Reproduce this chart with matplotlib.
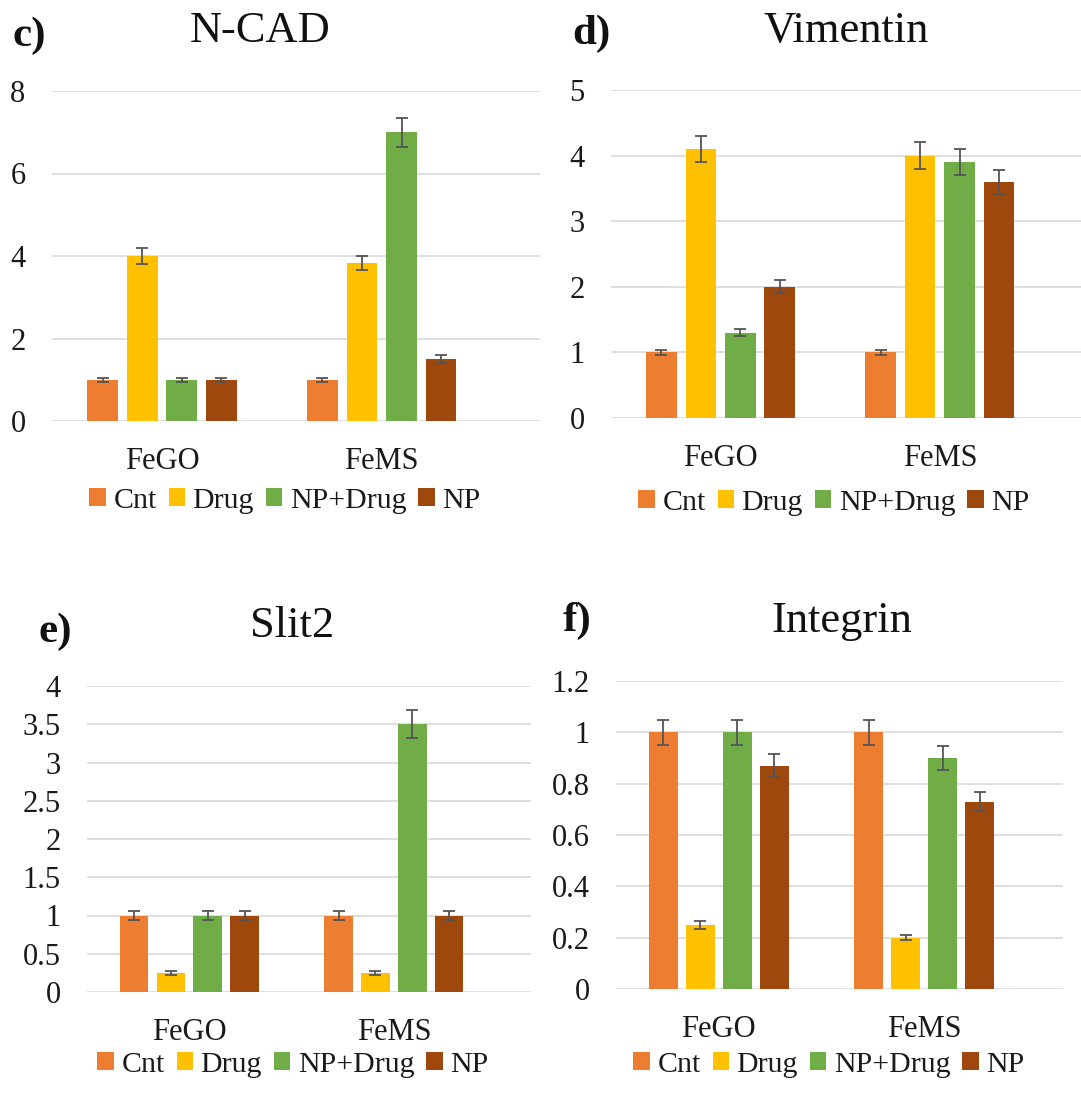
import numpy as np
import matplotlib
matplotlib.use("Agg")
import matplotlib.pyplot as plt
from matplotlib.patches import Patch

plt.rcParams['font.family'] = ['Liberation Serif', 'DejaVu Serif']

# data
groups = ['FeGO', 'FeMS']
series = ['Cnt', 'Drug', 'NP+Drug', 'NP']
colors = ['#ED7D31', '#FFC000', '#70AD47', '#9E480E']

ncad_vals = [[1.0, 1.0], [4.0, 3.82], [1.0, 7.0], [1.0, 1.5]]
ncad_err = [[0.05, 0.05], [0.2, 0.17], [0.05, 0.35], [0.05, 0.1]]

vim_vals = [[1.0, 1.0], [4.1, 4.0], [1.3, 3.9], [2.0, 3.6]]
vim_err = [[0.04, 0.04], [0.2, 0.2], [0.05, 0.2], [0.1, 0.18]]

slit_vals = [[1.0, 1.0], [0.25, 0.25], [1.0, 3.5], [1.0, 1.0]]
slit_err = [[0.06, 0.06], [0.025, 0.025], [0.06, 0.18], [0.06, 0.06]]

integ_vals = [[1.0, 1.0], [0.25, 0.2], [1.0, 0.9], [0.87, 0.73]]
integ_err = [[0.05, 0.05], [0.015, 0.01], [0.05, 0.045], [0.045, 0.037]]

W, H = 1081, 1101
fig = plt.figure(figsize=(W / 100, H / 100), dpi=100)


def rect(left, right, top, bottom):
    return [left / W, 1 - bottom / H, (right - left) / W, (bottom - top) / H]


def panel(box, xright, vals, errs, yticks, title, tx, ty, letter, lx, ly, legx, legy):
    ax = fig.add_axes(rect(*box))
    x = np.arange(len(groups))
    offsets = [-0.27, -0.09, 0.09, 0.27]
    for i, name in enumerate(series):
        ax.bar(x + offsets[i], vals[i], width=0.14, color=colors[i], zorder=2,
               yerr=errs[i], capsize=4.5,
               error_kw=dict(ecolor='#555555', elinewidth=1.3, capthick=1.3, zorder=3))
    ax.set_xlim(-0.5, xright)
    ax.set_ylim(yticks[0], yticks[-1])
    ax.set_yticks(yticks)
    ax.set_yticklabels(['%g' % t for t in yticks])
    ax.set_xticks(x)
    ax.set_xticklabels(groups)
    ax.tick_params(axis='y', length=0, pad=19, labelsize=22, labelcolor='#1a1a1a')
    ax.tick_params(axis='x', length=0, pad=19, labelsize=22, labelcolor='#1a1a1a')
    for s in ax.spines.values():
        s.set_visible(False)
    ax.grid(axis='y', color='#d9d9d9', linewidth=1.2, zorder=0)
    ax.set_axisbelow(True)

    fig.text(tx / W, 1 - ty / H, title, fontsize=32, ha='center', va='baseline', color='#111111')
    fig.text(lx / W, 1 - ly / H, letter, fontsize=31, fontweight='bold', ha='center', va='baseline',
             color='#111111')

    handles = [Patch(facecolor=c, edgecolor='none') for c in colors]
    fig.legend(handles, series, loc='center', bbox_to_anchor=(legx / W, 1 - legy / H),
               ncol=4, frameon=False, fontsize=21.5, handlelength=0.55, handleheight=0.55,
               handletextpad=0.25, columnspacing=0.4, borderaxespad=0, borderpad=0,
               labelcolor='#1a1a1a')
    return ax


panel((52, 540, 91, 421), 1.72, ncad_vals, ncad_err, [0, 2, 4, 6, 8],
      'N-CAD', 260, 42, 'c)', 29, 46, 285, 501)
panel((611, 1081, 90, 418), 1.644, vim_vals, vim_err, [0, 1, 2, 3, 4, 5],
      'Vimentin', 846, 42, 'd)', 591, 44, 834, 503)
panel((87, 531, 686, 992), 1.67, slit_vals, slit_err, list(np.arange(0, 4.01, 0.5)),
      'Slit2', 292, 637, 'e)', 55, 642, 293, 1065)
panel((616, 1063, 681, 989), 1.676, integ_vals, integ_err, list(np.round(np.arange(0, 1.21, 0.2), 1)),
      'Integrin', 842, 632, 'f)', 577, 631, 829, 1065)

fig.savefig('out.png', dpi=100, facecolor='white')
